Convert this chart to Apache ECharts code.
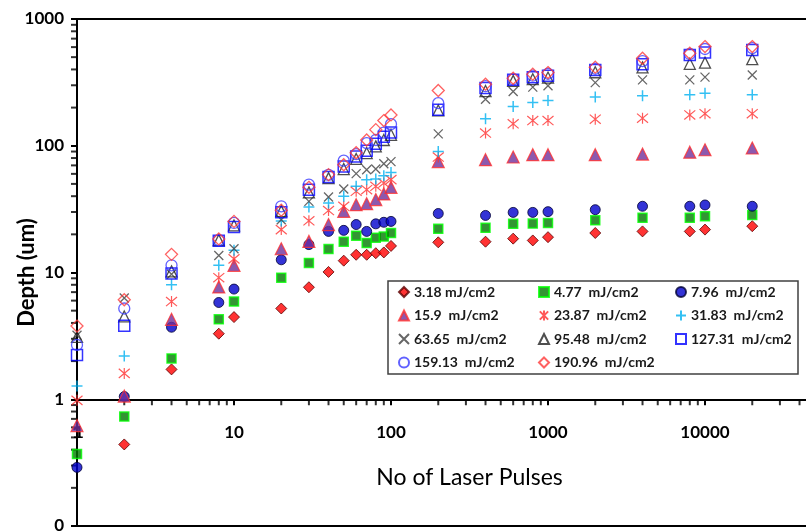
<!DOCTYPE html>
<html>
<head>
<meta charset="utf-8">
<script src="https://cdn.jsdelivr.net/npm/echarts@6/dist/echarts.min.js"></script>
<style>
  html, body { margin: 0; padding: 0; background: #fff; }
  #chart { width: 806px; height: 531px; }
</style>
</head>
<body>
<div id="chart"></div>
<script>
// Number of laser pulses (x, log scale)
const pulses = [1, 2, 4, 8, 10, 20, 30, 40, 50, 60, 70, 80, 90, 100,
  200, 400, 600, 800, 1000, 2000, 4000, 8000, 10000, 20000];

// Crater depth (um) for each fluence
const depth318 = [null, 0.44, 1.72, 3.29, 4.45, 5.2, 7.65, 10.1, 12.4, 13.8, 13.8, 14.2, 14.4, 16.2,
  17.3, 17.5, 18.5, 17.9, 19, 20.5, 21.1, 21.1, 21.8, 23.2];
const depth477 = [0.37, 0.73, 2.1, 4.27, 5.9, 9.1, 11.9, 15.3, 17.5, 19.5, 17.1, 18.8, 19.2, 20.5,
  22.1, 22.5, 24.2, 24.3, 24.6, 25.8, 27, 27, 27.8, 28.4];
const depth796 = [0.29, 1.05, 3.7, 5.8, 7.4, 12.6, 16.6, 21.1, 21.5, 23.9, 21.1, 24.2, 24.9, 25.3,
  29.2, 28.2, 29.8, 29.8, 30.2, 31.3, 33.3, 33.3, 34.1, 33.3];
const depth159 = [0.62, 1.06, 4.27, 7.7, 11.4, 15.4, 17.6, 23.9, 30.4, 34.3, 34.9, 37.6, 41.7, 47,
  75, 77.6, 81.5, 85, 85, 85, 86, 89, 93, 96];
const depth2387 = [0.98, 1.6, 5.9, 9.1, 12.8, 21.8, 25.6, 30.8, 33.3, 43.7, 45, 47.9, 50.8, 54,
  81.5, 126, 149, 158, 158, 162, 165, 175, 179, 179];
const depth3183 = [1.27, 2.19, 8.0, 11.4, 15.0, 25.5, 32.9, 35.4, 39.9, 47.9, 54, 54.7, 58, 61.6,
  90, 163, 204, 219, 228, 242, 248, 252, 260, 252];
const depth6365 = [3.2, 6.3, 9.7, 13.6, 15.4, 26.1, 36.4, 39.4, 45.6, 60.3, 64.7, 65.5, 72, 75,
  124, 233, 268, 290, 297, 315, 331, 331, 348, 362];
const depth9548 = [3.1, 4.5, 10.2, 18, 23.5, 30.5, 42.9, 55.5, 65.5, 78.7, 87.6, 98.8, 111, 122,
  190, 270, 325, 335, 345, 380, 415, 443, 453, 482];
const depth12731 = [2.23, 3.8, 9.8, 17.8, 22.9, 29.9, 45, 56.6, 68.7, 82.4, 91.4, 103.7, 118, 127,
  192, 285, 331, 347, 356, 396, 440, 521, 543, 570];
const depth15913 = [2.68, 5.2, 11.4, 18, 24.6, 33.3, 49.3, 59, 76.2, 86, 105, 111, 127, 148,
  217, 295, 335, 357, 370, 405, 465, 530, 580, 590];
const depth19096 = [3.78, 6.1, 13.9, 18.4, 25.3, 31, 47, 59.2, 70.8, 88, 111, 134, 158, 175,
  273, 306, 341, 367, 378, 417, 490, 537, 606, 606];

const seriesNames = ['3.18 mJ/cm2', '4.77  mJ/cm2', '7.96  mJ/cm2', '15.9  mJ/cm2', '23.87  mJ/cm2',
  '31.83  mJ/cm2', '63.65  mJ/cm2', '95.48  mJ/cm2', '127.31  mJ/cm2', '159.13  mJ/cm2', '190.96  mJ/cm2'];

// Tick label text on the depth axis (0.1 is printed as "0")
const yTickLabels = { 0.1: '0', 1: '1', 10: '10', 100: '100', 1000: '1000' };
const xTickLabels = { 1: '1', 10: '10', 100: '100', 1000: '1000', 10000: '10000' };

const FONT = 'Lato';

const depthSets = [depth318, depth477, depth796, depth159, depth2387, depth3183,
  depth6365, depth9548, depth12731, depth15913, depth19096];

// marker style per fluence
const ASTER = 'path://M0,0L10,10M10,0L0,10M5,-1L5,11';
const PLUS = 'path://M5,0L5,10M0,5L10,5';
const CROSS = 'path://M0,0L10,10M10,0L0,10';
const markerStyles = [
  { symbol: 'diamond', size: 11, itemStyle: { color: '#ff0000', borderColor: '#5a0000', borderWidth: 1 } },
  { symbol: 'rect', size: 9, itemStyle: { color: '#007a00', borderColor: '#00ff00', borderWidth: 1.5 } },
  { symbol: 'circle', size: 10, itemStyle: { color: '#0000cc', borderColor: '#000033', borderWidth: 1 } },
  { symbol: 'triangle', size: 12, itemStyle: { color: '#70309a', borderColor: '#ff3030', borderWidth: 1.2 } },
  { symbol: ASTER, size: 11, itemStyle: { color: 'transparent', borderColor: '#ff3030', borderWidth: 1.2 } },
  { symbol: PLUS, size: 11, itemStyle: { color: 'transparent', borderColor: '#00b0f0', borderWidth: 1.5 } },
  { symbol: CROSS, size: 9, itemStyle: { color: 'transparent', borderColor: '#404040', borderWidth: 1.3 } },
  { symbol: 'triangle', size: 11, itemStyle: { color: 'transparent', borderColor: '#222222', borderWidth: 1.3 } },
  { symbol: 'rect', size: 11, itemStyle: { color: 'transparent', borderColor: '#0000ff', borderWidth: 1.5 } },
  { symbol: 'circle', size: 11, itemStyle: { color: 'transparent', borderColor: '#3a3aff', borderWidth: 1.3 } },
  { symbol: 'diamond', size: 12, itemStyle: { color: 'transparent', borderColor: '#ff3a3a', borderWidth: 1.3 } }
];

// log-style minor tick positions (2..9 per decade)
const minorTicks = [];
for (let e = -1; e < 5; e++) for (let m = 2; m <= 9; m++) minorTicks.push(+(m * Math.pow(10, e)).toPrecision(3));

const GRID = { left: 77, top: 19, right: -56, bottom: 5 };
const gridH = 531 - GRID.top - GRID.bottom;
const Y_MIN = 0.1, Y_MAX = 1000;
// horizontal axis crosses the depth axis at 1
const xAxisOffset = -gridH * (Math.log10(1) - Math.log10(Y_MIN)) / (Math.log10(Y_MAX) - Math.log10(Y_MIN));
const X_LABEL_MARGIN = 25;
const TICK_FONT = { fontFamily: FONT, fontWeight: 'bold', fontSize: 17, color: '#000' };

const scatterSeries = seriesNames.map((name, i) => ({
  name,
  type: 'scatter',
  symbol: markerStyles[i].symbol,
  symbolSize: markerStyles[i].size,
  itemStyle: markerStyles[i].itemStyle,
  clip: false,
  z: 3 + i * 0.01,
  data: pulses.map((p, k) => depthSets[i][k] == null ? null : [p, depthSets[i][k]]).filter(d => d)
}));

// minor tick marks, drawn as thin rectangles hanging off the axis lines
const tickSeries = [
  {
    type: 'scatter', silent: true, clip: false, z: 2,
    symbol: 'rect', symbolSize: [2, 6], symbolOffset: [0, 3],
    itemStyle: { color: '#000' },
    data: minorTicks.filter(v => v > 1 && v < 100000).map(v => [v, 1])
  },
  {
    type: 'scatter', silent: true, clip: false, z: 2,
    symbol: 'rect', symbolSize: [6, 2], symbolOffset: [-3, 0],
    itemStyle: { color: '#000' },
    data: minorTicks.filter(v => v > Y_MIN && v < Y_MAX).map(v => [1, v])
  }
];

const legendBase = {
  orient: 'vertical', top: 285, padding: 0, itemGap: 9.5,
  itemWidth: 10, itemHeight: 10,
  textStyle: { fontFamily: FONT, fontWeight: 'bold', fontSize: 14, color: '#1a1a1a', lineHeight: 14 },
  selectedMode: false
};

const chart = echarts.init(document.getElementById('chart'), null, { renderer: 'canvas' });
chart.setOption({
  animation: false,
  backgroundColor: '#ffffff',
  grid: Object.assign({
    show: true, borderColor: '#000', borderWidth: 2, backgroundColor: 'transparent',
    containLabel: false, outerBoundsMode: 'none'
  }, GRID),
  xAxis: {
    type: 'log', logBase: 10, min: 1, max: 100000,
    offset: xAxisOffset,
    axisLine: { show: true, lineStyle: { color: '#000', width: 2 } },
    axisTick: { show: true, length: 6, lineStyle: { color: '#000', width: 2 } },
    splitLine: { show: false },
    axisLabel: Object.assign({
      margin: X_LABEL_MARGIN, showMinLabel: true, hideOverlap: false,
      formatter: v => xTickLabels[v] || ''
    }, TICK_FONT),
    name: 'No of Laser Pulses', nameLocation: 'middle', nameGap: 67, nameMoveOverlap: false,
    nameTextStyle: { fontFamily: FONT, fontSize: 23, color: '#000' }
  },
  yAxis: {
    type: 'log', logBase: 10, min: Y_MIN, max: Y_MAX,
    axisLine: { show: true, lineStyle: { color: '#000', width: 2 } },
    axisTick: { show: true, length: 6, lineStyle: { color: '#000', width: 2 } },
    splitLine: { show: false },
    axisLabel: Object.assign({
      margin: 13,
      formatter: v => yTickLabels[+(+v).toPrecision(3)] || ''
    }, TICK_FONT),
    name: 'Depth (um)', nameLocation: 'middle', nameGap: 39, nameRotate: 90, nameMoveOverlap: false,
    nameTextStyle: { fontFamily: FONT, fontWeight: 'bold', fontSize: 22, color: '#000' }
  },
  legend: [
    Object.assign({}, legendBase, { left: 398, data: [seriesNames[0], seriesNames[3], seriesNames[6], seriesNames[9]] }),
    Object.assign({}, legendBase, { left: 538, data: [seriesNames[1], seriesNames[4], seriesNames[7], seriesNames[10]] }),
    Object.assign({}, legendBase, { left: 675, data: [seriesNames[2], seriesNames[5], seriesNames[8]] })
  ],
  graphic: [{
    type: 'rect', z: 1,
    shape: { x: 388, y: 281, width: 410, height: 93 },
    style: { fill: '#fff', stroke: '#404040', lineWidth: 1.5 }
  }],
  series: tickSeries.concat(scatterSeries)
});

// the label at the axis origin ("1") is dropped by the axis, so place it at the scale's own position
const origin = chart.convertToPixel({ gridIndex: 0 }, [1, 1]);
chart.setOption({
  graphic: [{
    type: 'rect', z: 1,
    shape: { x: 388, y: 281, width: 410, height: 93 },
    style: { fill: '#fff', stroke: '#404040', lineWidth: 1.5 }
  }, {
    type: 'text', z: 2,
    x: origin[0] + 2, y: origin[1] + X_LABEL_MARGIN,
    style: Object.assign({ text: xTickLabels[1], align: 'center', verticalAlign: 'top',
      font: 'bold 17px ' + FONT, fill: '#000' })
  }]
});
</script>
</body>
</html>
